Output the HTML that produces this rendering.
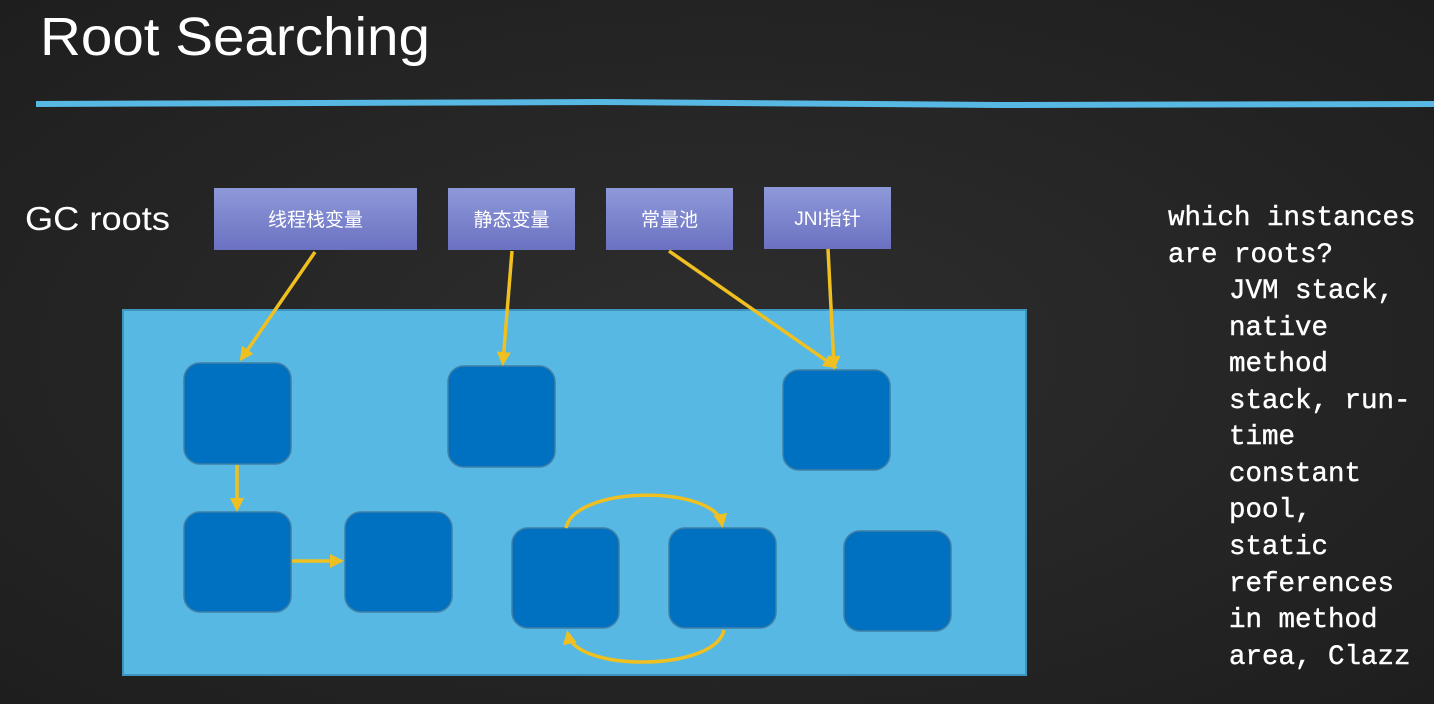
<!DOCTYPE html>
<html><head><meta charset="utf-8"><style>
html,body{margin:0;padding:0;width:1434px;height:704px;overflow:hidden;background:#262626}
svg{display:block}
</style></head><body>
<svg width="1434" height="704" viewBox="0 0 1434 704" xmlns="http://www.w3.org/2000/svg">
<defs>
<linearGradient id="rg" x1="0" y1="0" x2="0" y2="1"><stop offset="0" stop-color="#8e99d9"/><stop offset="1" stop-color="#6b71c1"/></linearGradient>
<radialGradient id="bg" cx="0.5" cy="0.5" r="0.8"><stop offset="0" stop-color="#2e2e2e"/><stop offset="1" stop-color="#1c1c1c"/></radialGradient>
<marker id="ahb" markerWidth="14" markerHeight="14" refX="10" refY="7" orient="auto" markerUnits="userSpaceOnUse"><path d="M0,0 L14,7 L0,14 z" fill="#f0c020"/></marker>
</defs>
<rect width="1434" height="704" fill="url(#bg)"/>
<text x="40" y="55" fill="#ffffff" font-family="Liberation Sans, sans-serif" font-size="54" textLength="390" lengthAdjust="spacingAndGlyphs">Root Searching</text>
<path d="M36,104 L600,102 L1000,105 L1434,104" stroke="#56b8e3" stroke-width="6" fill="none"/>
<text x="25" y="230" fill="#ffffff" font-family="Liberation Sans, sans-serif" font-size="33" textLength="145" lengthAdjust="spacingAndGlyphs">GC roots</text>

<g font-family="Liberation Sans, 'Noto Sans CJK SC', sans-serif" font-size="19" fill="#ffffff" text-anchor="middle">
<rect x="214" y="188" width="203" height="62" fill="url(#rg)"/>
<text x="315.5" y="226" fill="#fff">线程栈变量</text>
<rect x="448" y="188" width="127" height="62" fill="url(#rg)"/>
<text x="511.5" y="226" fill="#fff">静态变量</text>
<rect x="606" y="188" width="127" height="62" fill="url(#rg)"/>
<text x="669.5" y="226" fill="#fff">常量池</text>
<rect x="764" y="187" width="127" height="62" fill="url(#rg)"/>
<text x="827.5" y="225" fill="#fff">JNI指针</text>
</g>

<rect x="123" y="310" width="903" height="365" fill="#56b8e3" stroke="#3e94bd" stroke-width="2"/>

<g fill="#0070c0" stroke="#3f7fa6" stroke-width="1.5">
<rect x="184" y="363" width="107" height="101" rx="16"/>
<rect x="448" y="366" width="107" height="101" rx="16"/>
<rect x="783" y="370" width="107" height="100" rx="16"/>
<rect x="184" y="512" width="107" height="100" rx="16"/>
<rect x="345" y="512" width="107" height="100" rx="16"/>
<rect x="512" y="528" width="107" height="100" rx="16"/>
<rect x="669" y="528" width="107" height="100" rx="16"/>
<rect x="844" y="531" width="107" height="100" rx="16"/>
</g>

<g stroke="#f0c020" stroke-width="3.5" fill="none">
<line x1="315" y1="252" x2="242" y2="358" marker-end="url(#ahb)"/>
<line x1="512" y1="251" x2="503" y2="362" marker-end="url(#ahb)"/>
<line x1="669" y1="251" x2="834" y2="366" marker-end="url(#ahb)"/>
<line x1="828" y1="249" x2="834" y2="366" marker-end="url(#ahb)"/>
<line x1="237" y1="465" x2="237" y2="508" marker-end="url(#ahb)"/>
<line x1="292" y1="561" x2="340" y2="561" marker-end="url(#ahb)"/>
<path d="M566,528 C575,485 715,485 722,524" marker-end="url(#ahb)"/>
<path d="M724,630 C715,672 575,672 568,634" marker-end="url(#ahb)"/>
</g>

<g font-family="Liberation Mono, monospace" font-size="27.5" fill="#ffffff" stroke="#ffffff" stroke-width="0.4">
<text x="1168" y="225">which instances</text>
<text x="1168" y="262">are roots?</text>
<text x="1229" y="298">JVM stack,</text>
<text x="1229" y="335">native</text>
<text x="1229" y="371">method</text>
<text x="1229" y="408">stack, run-</text>
<text x="1229" y="444">time</text>
<text x="1229" y="481">constant</text>
<text x="1229" y="517">pool,</text>
<text x="1229" y="554">static</text>
<text x="1229" y="591">references</text>
<text x="1229" y="627">in method</text>
<text x="1229" y="664">area, Clazz</text>
</g>
</svg>
</body></html>
